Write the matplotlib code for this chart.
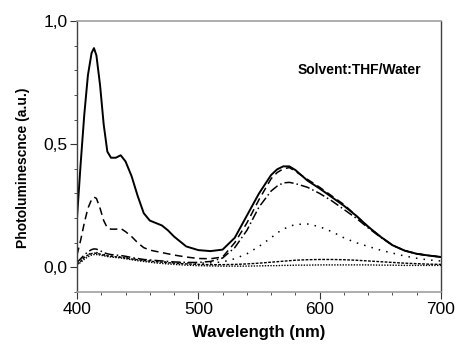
import matplotlib
matplotlib.use('Agg')
import matplotlib.pyplot as plt
from matplotlib.ticker import MultipleLocator, FuncFormatter

plt.rcParams['font.family'] = ['Liberation Sans', 'DejaVu Sans']

# Wavelength grid (nm)
wavelength = [400, 403, 406, 409, 412, 414, 416, 419, 422, 425, 428, 432, 436, 440,
              445, 450, 455, 460, 465, 470, 475, 480, 490, 500, 510, 520, 530, 540,
              550, 560, 565, 570, 575, 580, 590, 600, 610, 620, 630, 640, 650, 660,
              670, 680, 690, 700]

# PL spectra (a.u.)
pl_solid = [0.20, 0.42, 0.62, 0.78, 0.87, 0.89, 0.86, 0.74, 0.58, 0.47, 0.445, 0.445,
            0.455, 0.43, 0.37, 0.29, 0.22, 0.19, 0.18, 0.17, 0.15, 0.125, 0.085, 0.07,
            0.066, 0.072, 0.12, 0.21, 0.30, 0.375, 0.398, 0.41, 0.41, 0.395, 0.352,
            0.32, 0.285, 0.25, 0.21, 0.165, 0.125, 0.09, 0.068, 0.055, 0.048, 0.042]

pl_dash = [0.05, 0.11, 0.18, 0.24, 0.275, 0.285, 0.28, 0.24, 0.19, 0.16, 0.155, 0.155,
           0.158, 0.145, 0.125, 0.10, 0.08, 0.07, 0.065, 0.06, 0.055, 0.05, 0.042,
           0.036, 0.035, 0.042, 0.10, 0.18, 0.275, 0.36, 0.385, 0.40, 0.405, 0.39,
           0.357, 0.325, 0.29, 0.255, 0.21, 0.165, 0.125, 0.09, 0.068, 0.055, 0.048, 0.042]

pl_dashdot = [0.02, 0.035, 0.05, 0.063, 0.072, 0.075, 0.074, 0.068, 0.06, 0.055, 0.052,
              0.05, 0.048, 0.045, 0.04, 0.036, 0.032, 0.03, 0.028, 0.026, 0.024, 0.022,
              0.02, 0.02, 0.024, 0.038, 0.08, 0.15, 0.245, 0.31, 0.33, 0.343, 0.345,
              0.34, 0.325, 0.30, 0.27, 0.235, 0.20, 0.16, 0.123, 0.09, 0.068, 0.055,
              0.048, 0.042]

pl_dot = [0.015, 0.03, 0.042, 0.052, 0.058, 0.06, 0.06, 0.056, 0.052, 0.048, 0.046,
          0.044, 0.042, 0.04, 0.036, 0.033, 0.03, 0.028, 0.026, 0.024, 0.022, 0.02,
          0.018, 0.017, 0.018, 0.022, 0.035, 0.055, 0.085, 0.12, 0.14, 0.155, 0.166,
          0.174, 0.176, 0.165, 0.145, 0.12, 0.10, 0.085, 0.07, 0.058, 0.046, 0.037,
          0.03, 0.026]

pl_shortdash = [0.012, 0.025, 0.04, 0.05, 0.056, 0.058, 0.057, 0.054, 0.05, 0.047, 0.045,
                0.043, 0.041, 0.038, 0.034, 0.031, 0.028, 0.025, 0.023, 0.021, 0.019,
                0.017, 0.014, 0.012, 0.011, 0.011, 0.012, 0.014, 0.017, 0.021, 0.023,
                0.025, 0.027, 0.029, 0.031, 0.032, 0.032, 0.031, 0.029, 0.026, 0.023,
                0.02, 0.017, 0.015, 0.013, 0.012]

pl_densedot = [0.01, 0.02, 0.033, 0.043, 0.05, 0.052, 0.052, 0.05, 0.047, 0.044, 0.042,
               0.04, 0.038, 0.035, 0.031, 0.027, 0.024, 0.021, 0.018, 0.016, 0.014,
               0.012, 0.009, 0.007, 0.006, 0.005, 0.005, 0.005, 0.006, 0.007, 0.007,
               0.008, 0.008, 0.009, 0.009, 0.01, 0.01, 0.01, 0.01, 0.01, 0.009, 0.009,
               0.008, 0.008, 0.008, 0.008]

fig = plt.figure(figsize=(4.57, 3.48), dpi=100)
ax = fig.add_axes([77 / 457, 1 - 292 / 348, 364 / 457, 271 / 348])

ax.plot(wavelength, pl_densedot, color='black', lw=1.0, linestyle=(0, (1, 1)))
ax.plot(wavelength, pl_shortdash, color='black', lw=1.0, linestyle=(0, (2, 1)))
ax.plot(wavelength, pl_dot, color='black', lw=1.1, linestyle=(0, (1, 4)))
ax.plot(wavelength, pl_dashdot, color='black', lw=1.1, linestyle=(0, (6, 2, 1, 2)))
ax.plot(wavelength, pl_dash, color='black', lw=1.1, linestyle=(0, (5, 3)))
ax.plot(wavelength, pl_solid, color='black', lw=1.4)

ax.set_xlim(400, 700)
ax.set_ylim(-0.1, 1.0)
ax.xaxis.set_major_locator(MultipleLocator(100))
ax.xaxis.set_minor_locator(MultipleLocator(20))
ax.set_yticks([0.0, 0.5, 1.0])
ax.yaxis.set_minor_locator(MultipleLocator(0.1))
ax.yaxis.set_major_formatter(FuncFormatter(lambda v, p: f'{v:.1f}'.replace('.', ',')))

ax.tick_params(axis='both', which='major', direction='out', length=5, width=0.8,
               labelsize=12.5, color='#333333', pad=2)
ax.tick_params(axis='both', which='minor', direction='out', length=2.5, width=0.6,
               color='#333333')

for side in ['top', 'bottom']:
    ax.spines[side].set_color('#a0a0a0')
    ax.spines[side].set_linewidth(1.2)
for side in ['left', 'right']:
    ax.spines[side].set_color('#404040')
    ax.spines[side].set_linewidth(1.0)

ax.set_xlabel('Wavelength (nm)', fontsize=12, fontweight='bold', labelpad=6)
ax.set_ylabel('Photoluminescnce (a.u.)', fontsize=10, fontweight='bold')
ax.yaxis.set_label_coords(-0.13, 0.46)

ax.text(582, 0.80, 'Solvent:THF/Water', fontsize=10, fontweight='bold',
        ha='left', va='center')

fig.savefig('out.png', dpi=100)
